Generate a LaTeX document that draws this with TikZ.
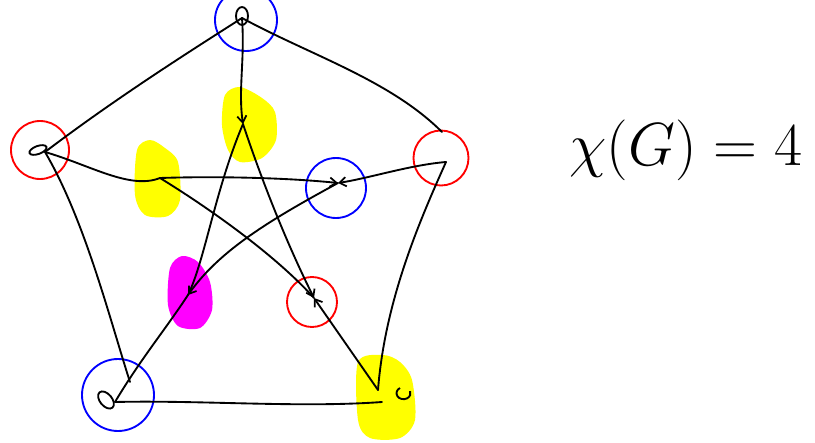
\documentclass[tikz,border=0pt]{standalone}
\usetikzlibrary{arrows.meta}
\definecolor{hlyellow}{RGB}{255,255,0}
\definecolor{hlmagenta}{RGB}{255,0,255}
\definecolor{ringblue}{RGB}{0,0,255}
\definecolor{ringred}{RGB}{255,0,0}
\begin{document}
\begin{tikzpicture}[x=0.75pt,y=-0.75pt,
  edge/.style={line width=1.4pt,black,line cap=round,line join=round},
  ring/.style={line width=1.4pt},
  vmark/.style={line width=1.4pt,black},
  tip/.style={-{Straight Barb[length=5pt,width=7pt,line width=1.3pt]}}]
\useasboundingbox (0,0) rectangle (815,443);
% highlights
\fill[hlyellow] plot[smooth cycle] coordinates {(225,95) (240,87) (262,98) (275,112) (276,140) (262,158) (240,162) (228,150) (222,125)};
\fill[hlyellow] plot[smooth cycle] coordinates {(137,150) (150,140) (165,148) (178,162) (180,200) (168,216) (145,215) (135,195)};
\fill[hlmagenta] plot[smooth cycle] coordinates {(170,268) (182,256) (198,262) (210,282) (212,310) (200,328) (178,326) (168,305)};
\fill[hlyellow] plot[smooth cycle] coordinates {(358,362) (383,355) (400,362) (412,380) (415,420) (400,438) (370,438) (358,420)};
% vertices
\coordinate (O1) at (242,18);
\coordinate (L) at (45,152);
\coordinate (R) at (442,132);
\coordinate (Rb) at (446,162);
\coordinate (BL) at (115,402);
\coordinate (BLt) at (130,382);
\coordinate (BR) at (382,402);
\coordinate (BRt) at (378,390);
\coordinate (I1) at (243,124);
\coordinate (I2) at (160,178);
\coordinate (I3) at (338,183);
\coordinate (I4) at (188,295);
\coordinate (I5) at (314,298);
% colour rings
\node[ring,draw=ringblue,circle,minimum size=62pt*0.75] (c1) at (246,20) {};
\node[ring,draw=ringred,circle,minimum size=58pt*0.75] (c2) at (40,150) {};
\node[ring,draw=ringred,circle,minimum size=55pt*0.75] (c3) at (441,158) {};
\node[ring,draw=ringblue,circle,minimum size=60pt*0.75] (c4) at (336,188) {};
\node[ring,draw=ringblue,circle,minimum size=72pt*0.75] (c5) at (118,395) {};
\node[ring,draw=ringred,circle,minimum size=50pt*0.75] (c6) at (312,302) {};
% outer cycle
\draw[edge] (O1) .. controls (200,45) and (120,95) .. (L);
\draw[edge] (O1) .. controls (310,55) and (390,80) .. (R);
\draw[edge] (L) .. controls (85,220) and (110,320) .. (BLt);
\draw[edge] (Rb) .. controls (420,220) and (385,300) .. (BRt);
\draw[edge] (BL) .. controls (200,400) and (300,408) .. (BR);
% spokes
\draw[edge,tip] (O1) .. controls (245,60) and (238,90) .. (I1);
\draw[edge] (L) .. controls (90,165) and (130,190) .. (I2);
\draw[edge,tip] (Rb) .. controls (410,165) and (370,178) .. (I3);
\draw[edge] (BL) .. controls (140,360) and (165,330) .. (I4);
\draw[edge,tip] (BRt) -- (I5);
% inner star
\draw[edge,tip] (I2) .. controls (220,176) and (290,178) .. (I3);
\draw[edge] (I1) .. controls (215,190) and (205,260) .. (I4);
\draw[edge,tip] (I1) .. controls (265,190) and (290,250) .. (I5);
\draw[edge] (I2) .. controls (220,215) and (280,260) .. (I5);
\draw[edge,tip] (I3) .. controls (270,220) and (220,250) .. (I4);
% small vertex scribbles
\draw[vmark] (242,16) ellipse [x radius=6pt*0.75,y radius=9pt*0.75];
\draw[vmark,rotate around={20:(38,150)}] (38,150) ellipse [x radius=9pt*0.75,y radius=4pt*0.75];
\draw[vmark,rotate around={-50:(106,400)}] (106,400) ellipse [x radius=10pt*0.75,y radius=6pt*0.75];
\draw[vmark] (400,388) arc[start angle=120,end angle=380,x radius=7pt*0.75,y radius=6pt*0.75];
% chromatic number
\node[scale=2.2] (chi) at (686,150) {\huge $\chi(G)=4$};
\end{tikzpicture}
\end{document}
